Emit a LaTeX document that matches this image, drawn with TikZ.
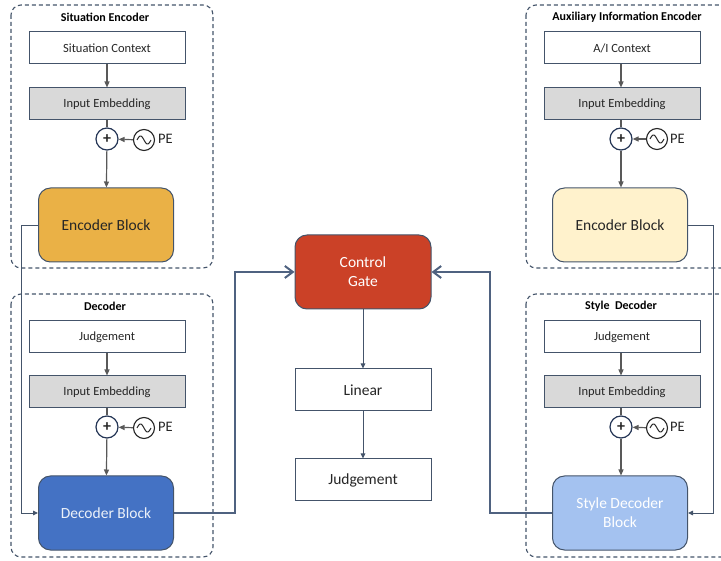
\documentclass[tikz,border=0pt]{standalone}
\usepackage{fontspec}
\setmainfont{Carlito}
\usepackage{tikz}
\usetikzlibrary{arrows.meta}

\definecolor{bordc}{HTML}{44546A}
\definecolor{navyc}{HTML}{243555}
\definecolor{textc}{HTML}{262626}
\definecolor{linec}{HTML}{595959}
\definecolor{embc}{HTML}{D9D9D9}
\definecolor{orangec}{HTML}{EAB146}
\definecolor{creamc}{HTML}{FFF2CC}
\definecolor{bluec}{HTML}{4472C4}
\definecolor{lightbluec}{HTML}{A4C2F0}
\definecolor{redc}{HTML}{CB4127}
\definecolor{thickc}{HTML}{4F6280}

\tikzset{
  groupbox/.style={draw=bordc, dashed, dash pattern=on 4pt off 3pt, line width=1.1pt, rounded corners=10pt},
  grouptitle/.style={font=\bfseries\fontsize{12}{14}\selectfont, text=black},
  inbox/.style={draw=bordc, fill=white, line width=1pt, minimum width=156pt, minimum height=32pt,
    inner sep=0pt, text=textc, font=\fontsize{12.5}{15}\selectfont},
  embbox/.style={inbox, fill=embc},
  blockbox/.style={draw=bordc, line width=1pt, rounded corners=12pt, minimum width=135pt,
    minimum height=74pt, inner sep=0pt, align=center, font=\fontsize{15.5}{19}\selectfont},
  midbox/.style={draw=bordc, fill=white, line width=1pt, minimum width=136pt, minimum height=42pt,
    inner sep=0pt, text=textc, font=\fontsize{15.5}{19}\selectfont},
  plusnode/.style={circle, draw=navyc, fill=white, line width=1.2pt, minimum size=22pt,
    inner sep=0pt, font=\bfseries\fontsize{16}{16}\selectfont, text=textc},
  penode/.style={circle, draw=textc, line width=1.1pt, minimum size=21pt, inner sep=0pt},
  petext/.style={font=\fontsize{14.5}{16}\selectfont, text=textc, anchor=west, inner sep=0pt},
  grayarrow/.style={draw=linec, line width=1.2pt, -{Triangle[length=6pt,width=5pt]}},
  grayline/.style={draw=linec, line width=1.2pt},
  thinarrow/.style={draw=bordc, line width=0.9pt, -{Triangle[length=5pt,width=4.5pt]}},
  thickarrow/.style={draw=thickc, line width=2pt, -{Straight Barb[length=8pt,width=12pt]}}
}

\newcommand{\sinewave}[1]{%
  \draw[textc, line width=1pt, shift={(#1)}] plot[domain=-7:7, samples=31, smooth] (\x, {4*sin(\x/7*180)});}

\begin{document}
\begin{tikzpicture}[x=1pt, y=-1pt]
  \useasboundingbox (0,0) rectangle (721,561);

  % group frames
  \draw[groupbox] (11,5) rectangle (213,268);
  \draw[groupbox] (11,294) rectangle (213,557);
  \draw[groupbox] (526,5) rectangle (735,268);
  \draw[groupbox] (526,294) rectangle (735,557);
  \node[grouptitle] (t1) at (105,17) {Situation Encoder};
  \node[grouptitle] (t2) at (105,306) {Decoder};
  \node[grouptitle] (t3) at (627,17) {Auxiliary Information Encoder};
  \node[grouptitle] (t4) at (621,306) {Style\ \ Decoder};

  % situation encoder
  \node[inbox] (ctx1) at (107,48) {Situation Context};
  \node[embbox] (emb1) at (107,104) {Input Embedding};
  \node[plusnode] (plus1) at (107,139) {+};
  \node[penode] (pe1) at (144,140) {};
  \sinewave{pe1}
  \node[petext] (pel1) at (158,139) {PE};
  \node[blockbox, fill=orangec, text=textc] (enc1) at (106,225) {Encoder Block};

  % decoder
  \node[inbox] (jud1) at (107,337) {Judgement};
  \node[embbox] (emb2) at (107,392) {Input Embedding};
  \node[plusnode] (plus2) at (107,427) {+};
  \node[penode] (pe2) at (144,428) {};
  \sinewave{pe2}
  \node[petext] (pel2) at (158,427) {PE};
  \node[blockbox, fill=bluec, text=white!90!bluec] (dec1) at (106,513) {Decoder Block};

  % auxiliary information encoder
  \node[inbox] (ctx2) at (622,48) {A/I Context};
  \node[embbox] (emb3) at (622,104) {Input Embedding};
  \node[plusnode] (plus3) at (621,139) {+};
  \node[penode] (pe3) at (657,139) {};
  \sinewave{pe3}
  \node[petext] (pel3) at (670,139) {PE};
  \node[blockbox, fill=creamc, text=textc] (enc2) at (620,225) {Encoder Block};

  % style decoder
  \node[inbox] (jud2) at (622,337) {Judgement};
  \node[embbox] (emb4) at (622,392) {Input Embedding};
  \node[plusnode] (plus4) at (621,427) {+};
  \node[penode] (pe4) at (657,428) {};
  \sinewave{pe4}
  \node[petext] (pel4) at (670,427) {PE};
  \node[blockbox, fill=lightbluec, text=white] (sdec) at (620,513) {Style Decoder\\Block};

  % middle column
  \node[blockbox, fill=redc, text=white, minimum width=136pt] (gate) at (363,272) {Control\\Gate};
  \node[midbox] (lin) at (363,390) {Linear};
  \node[midbox] (jud3) at (363,480) {Judgement};

  % stack connectors
  \draw[grayarrow] (ctx1) -- (emb1);
  \draw[grayline] (emb1) -- (plus1);
  \draw[grayarrow] (pe1) -- (plus1);
  \draw[grayarrow] (plus1) -- (enc1);
  \draw[grayarrow] (jud1) -- (emb2);
  \draw[grayline] (emb2) -- (plus2);
  \draw[grayarrow] (pe2) -- (plus2);
  \draw[grayarrow] (plus2) -- (dec1);
  \draw[grayarrow] (ctx2.south -| plus3) -- (emb3.north -| plus3);
  \draw[grayline] (emb3.south -| plus3) -- (plus3);
  \draw[grayarrow] (pe3) -- (plus3);
  \draw[grayarrow] (plus3) -- (plus3 |- enc2.north);
  \draw[grayarrow] (jud2.south -| plus4) -- (emb4.north -| plus4);
  \draw[grayline] (emb4.south -| plus4) -- (plus4);
  \draw[grayarrow] (pe4) -- (plus4);
  \draw[grayarrow] (plus4) -- (plus4 |- sdec.north);

  % cross connectors
  \draw[thinarrow] (enc1.west) -- ++(-17,0) |- (dec1.west);
  \draw[thinarrow] (enc2.east) -- ++(25,0) |- (sdec.east);
  \draw[thickarrow] (dec1.east) -- ++(61,0) |- (gate.west);
  \draw[thickarrow] (sdec.west) -- ++(-62,0) |- (gate.east);
  \draw[thinarrow] (gate) -- (lin);
  \draw[thinarrow] (lin) -- (jud3);
\end{tikzpicture}
\end{document}
